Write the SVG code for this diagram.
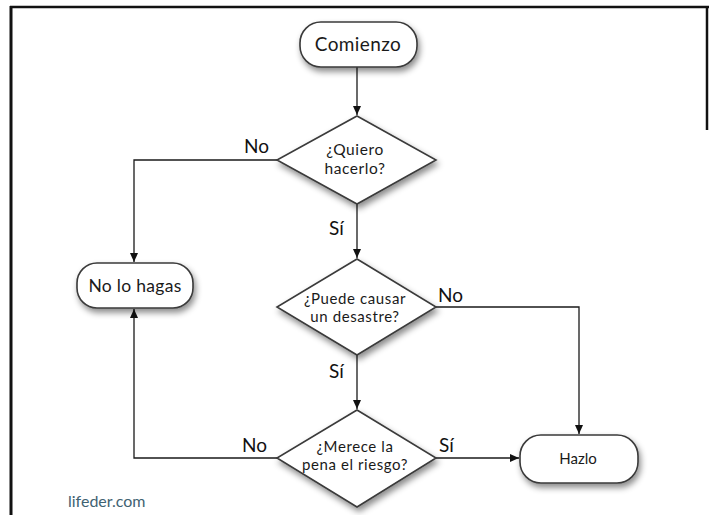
<svg xmlns="http://www.w3.org/2000/svg" width="709" height="515" viewBox="0 0 709 515">
  <style>
    .node { fill: #ffffff; stroke: #3a3a3a; stroke-width: 1.6; filter: url(#shadow); }
    .label { font-family: Lato, "Open Sans", sans-serif; fill: #1a1a1a; text-anchor: middle; }
    .qtext { font-size: 15px; letter-spacing: 0.6px; }
    .edge { fill: none; stroke: #1a1a1a; stroke-width: 1.3; }
    .branch { font-family: Lato, "Open Sans", sans-serif; fill: #111; font-size: 19px; }
  </style>
  <defs>
    <filter id="shadow" x="-20%" y="-20%" width="150%" height="160%">
      <feDropShadow dx="2" dy="4" stdDeviation="3" flood-color="#000" flood-opacity="0.45"/>
    </filter>
    <marker id="arrow" markerWidth="10" markerHeight="10" refX="9" refY="5" orient="auto" markerUnits="userSpaceOnUse">
      <path d="M0,1 L9,5 L0,9 Z" fill="#111"/>
    </marker>
  </defs>

  <rect x="0" y="0" width="709" height="515" fill="#ffffff"/>

  <!-- outer frame -->
  <g id="frame" stroke="#111" fill="none">
    <line x1="11" y1="6" x2="11" y2="515" stroke-width="3"/>
    <line x1="10" y1="7" x2="709" y2="7" stroke-width="2.5"/>
    <line x1="707" y1="6" x2="707" y2="130" stroke-width="2.5"/>
  </g>

  <!-- connectors -->
  <g id="connectors">
    <path class="edge" d="M357,67 V115" marker-end="url(#arrow)"/>
    <path class="edge" d="M277,160 H134 V262" marker-end="url(#arrow)"/>
    <path class="edge" d="M357,204 V258" marker-end="url(#arrow)"/>
    <path class="edge" d="M436,307 H579 V434" marker-end="url(#arrow)"/>
    <path class="edge" d="M357,355 V409" marker-end="url(#arrow)"/>
    <path class="edge" d="M436,458 H519" marker-end="url(#arrow)"/>
    <path class="edge" d="M277,458 H134 V309" marker-end="url(#arrow)"/>
    <text class="branch" x="244" y="153">No</text>
    <text class="branch" x="329" y="235">Sí</text>
    <text class="branch" x="438" y="302">No</text>
    <text class="branch" x="329" y="378">Sí</text>
    <text class="branch" x="242" y="452">No</text>
    <text class="branch" x="439" y="452">Sí</text>
  </g>

  <g id="start">
    <rect class="node" x="300" y="22" width="117" height="45" rx="21"/>
    <text class="label" x="358" y="51" font-size="19" letter-spacing="0.4">Comienzo</text>
  </g>

  <g id="q-want">
    <polygon class="node" points="357,116 436,160 357,204 277,160"/>
    <text class="label" x="355" y="155" font-size="15.5" letter-spacing="0.6">¿Quiero</text>
    <text class="label" x="355" y="174" font-size="15.5" letter-spacing="0.6">hacerlo?</text>
  </g>

  <g id="dont">
    <rect class="node" x="77" y="263" width="116" height="45" rx="20"/>
    <text class="label" x="135" y="292" font-size="17.5" letter-spacing="0.3">No lo hagas</text>
  </g>

  <g id="q-disaster">
    <polygon class="node" points="357,259 436,307 357,355 277,307"/>
    <text class="label qtext" x="355" y="304">¿Puede causar</text>
    <text class="label qtext" x="355" y="322">un desastre?</text>
  </g>

  <g id="q-worth">
    <polygon class="node" points="357,410 436,458 357,507 277,458"/>
    <text class="label qtext" x="355" y="452">¿Merece la</text>
    <text class="label qtext" x="355" y="470">pena el riesgo?</text>
  </g>

  <g id="do-it">
    <rect class="node" x="520" y="435" width="118" height="48" rx="21"/>
    <text class="label" x="578" y="464" font-size="15">Hazlo</text>
  </g>

  <text x="68" y="507" font-family="Lato, 'Open Sans', sans-serif" font-size="16" fill="#3f6272">lifeder.com</text>
</svg>
